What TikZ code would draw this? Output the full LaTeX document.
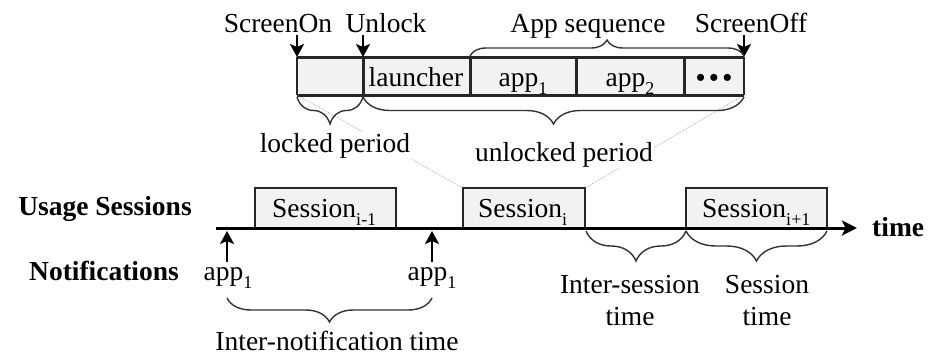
\documentclass[tikz,border=0pt]{standalone}
\usepackage{fontspec}
\setmainfont{Liberation Serif}
\usetikzlibrary{decorations.pathreplacing,arrows.meta}
\newcommand{\mysub}[1]{\raisebox{-0.32em}{\fontsize{18}{20}\selectfont #1}}
\begin{document}
\begin{tikzpicture}[x=1pt,y=-1pt,
  txt/.style={font=\fontsize{27.5}{30}\selectfont, inner sep=0pt, anchor=base},
  btxt/.style={txt, font=\fontsize{27.5}{30}\selectfont\bfseries},
  thickline/.style={line width=3pt, draw=black!85},
  thinline/.style={line width=1.6pt, draw=black!85},
  sess/.style={draw=black!85, line width=2.2pt},
  brc/.style={decorate, decoration={brace, amplitude=#1}, line width=1.4pt, draw=black!80},
  arr/.style={line width=2.6pt, -{Stealth[length=13pt,width=14pt,inset=3pt]}},
  dots/.style={draw=black!35, line width=0.7pt, densely dotted}
]
\useasboundingbox (0,0) rectangle (946,357);

% top strip
\coordinate (tl) at (297,57);
\coordinate (br) at (744,95);
\fill[black!5] (tl) rectangle (br);
\coordinate (bl) at (297,95);
\coordinate (tr) at (744,57);
\coordinate (d1t) at (363,57); \coordinate (d1b) at (363,95);
\coordinate (d2t) at (470,57); \coordinate (d2b) at (470,95);
\coordinate (d3t) at (576,57); \coordinate (d3b) at (576,95);
\coordinate (d4t) at (684,57); \coordinate (d4b) at (684,95);

% magnification dotted lines
\coordinate (s2tl) at (463,188);
\coordinate (s2tr) at (585,188);
\draw[dots] (bl) -- (s2tl);
\draw[dots] (br) -- (s2tr);

\draw[thickline] (tl) -- (tr);
\draw[thickline] (bl) -- (br);
\draw[thinline] (tl) -- (bl);
\draw[thinline] (tr) -- (br);
\draw[thickline] (d1t) -- (d1b);
\draw[thickline] (d2t) -- (d2b);
\draw[thickline] (d3t) -- (d3b);
\draw[thickline] (d4t) -- (d4b);

\node[txt] (launch) at (416,86) {launcher};
\node[txt] (a1) at (523,86) {app\mysub{1}};
\node[txt] (a2) at (630,86) {app\mysub{2}};
\node[txt, font=\fontsize{26}{28}\selectfont\bfseries] (dd) at (714,86) {\textbullet\,\textbullet\,\textbullet};

\node[txt] (son) at (278,32) {ScreenOn};
\node[txt] (unl) at (386,32) {Unlock};
\node[txt] (aps) at (588,32) {App sequence};
\node[txt] (soff) at (751,32) {ScreenOff};

\coordinate (a1s) at (297,35);
\coordinate (a2s) at (363,35);
\coordinate (a3s) at (744,35);
\draw[arr] (a1s) -- (tl);
\draw[arr] (a2s) -- (d1t);
\draw[arr] (a3s) -- (tr);

% braces top strip
\coordinate (bA1) at (470,56); \coordinate (bA2) at (744,56);
\draw[brc=16pt] (bA1) -- (bA2);
\coordinate (bL1) at (297,97); \coordinate (bL2) at (363,97);
\draw[brc=27pt] (bL2) -- (bL1);
\coordinate (bU1) at (363,97); \coordinate (bU2) at (744,97);
\draw[brc=27pt] (bU2) -- (bU1);

\node[txt, fill=white, inner sep=1pt] (lp) at (335,152) {locked period};
\node[txt, fill=white, inner sep=1pt] (up) at (564,161) {unlocked period};

% sessions
\node[btxt] (us) at (105,215) {Usage Sessions};
\node[btxt] (nt) at (104,280) {Notifications};

\coordinate (t0) at (216,228);
\coordinate (t1) at (857,228);

\fill[black!5] (255,188) rectangle (396,228);
\fill[black!5] (463,188) rectangle (585,228);
\fill[black!5] (686,188) rectangle (827,228);
\draw[sess] (255,229) |- (396,188) -- (396,229);
\draw[sess] (463,229) |- (585,188) -- (585,229);
\draw[sess] (686,229) |- (827,188) -- (827,229);

\node[txt, anchor=base west] (s1) at (272,217) {Session\mysub{i-1}};
\node[txt, anchor=base west] (s2) at (478,217) {Session\mysub{i}};
\node[txt, anchor=base west] (s3) at (702,217) {Session\mysub{i+1}};

\draw[line width=3pt, -{Stealth[length=15pt,width=15pt,inset=3.5pt]}] (t0) -- (t1);
\node[btxt, anchor=base west] (tm) at (872,236) {time};

% notifications
\coordinate (n1) at (227,262); \coordinate (n1t) at (227,231);
\coordinate (n2) at (432,262); \coordinate (n2t) at (432,231);
\draw[arr] (n1) -- (n1t);
\draw[arr] (n2) -- (n2t);
\node[txt] (ap1) at (228,280) {app\mysub{1}};
\node[txt] (ap2) at (432,280) {app\mysub{1}};

\coordinate (bn1) at (227,298); \coordinate (bn2) at (432,298);
\draw[brc=24pt] (bn2) -- (bn1);
\node[txt] (int) at (337,350) {Inter-notification time};

\coordinate (bi1) at (586,231); \coordinate (bi2) at (686,231);
\draw[brc=30pt] (bi2) -- (bi1);
\coordinate (bs1) at (686,231); \coordinate (bs2) at (827,231);
\draw[brc=30pt] (bs2) -- (bs1);

\node[txt] (ist) at (630,293) {Inter-session};
\node[txt] (ist2) at (630,325) {time};
\node[txt] (sst) at (767,293) {Session};
\node[txt] (sst2) at (767,325) {time};
\end{tikzpicture}
\end{document}
